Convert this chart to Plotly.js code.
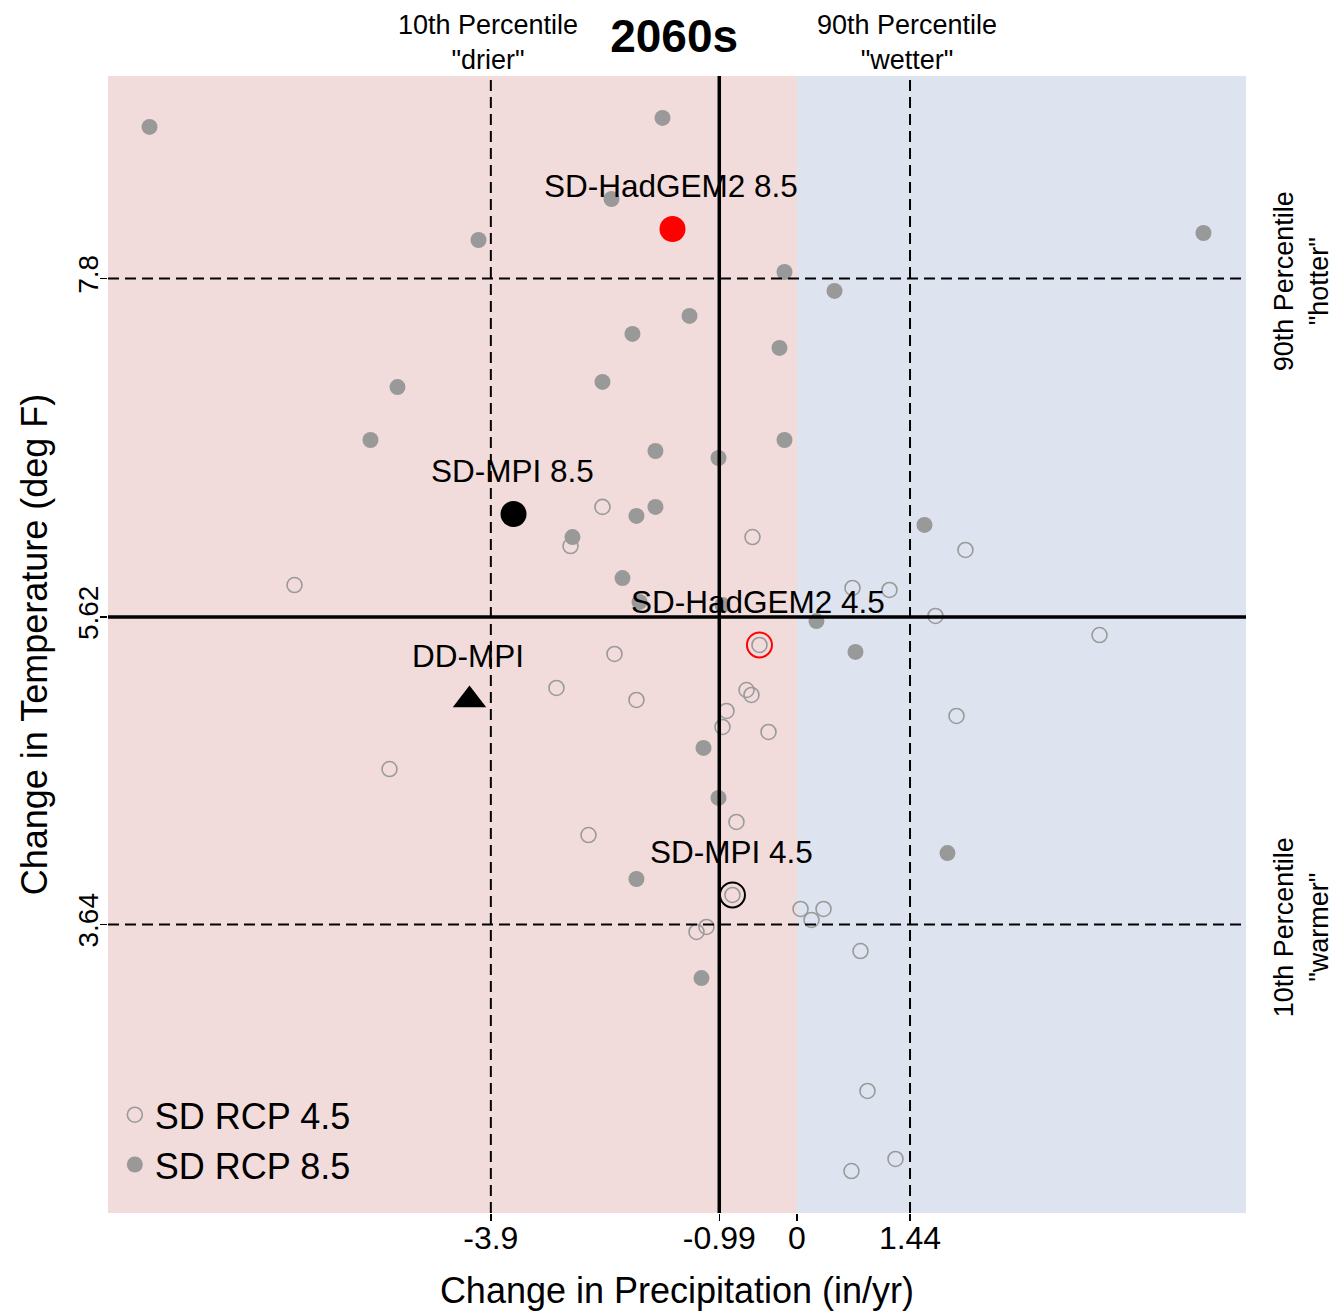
<!DOCTYPE html>
<html>
<head>
<meta charset="utf-8">
<script src="https://cdn.plot.ly/plotly-3.0.1.min.js"></script>
<style>html,body{margin:0;padding:0;background:#fff;}#chart{width:1334px;height:1311px;}</style>
</head>
<body>
<div id="chart"></div>
<script>
// ---- data ----
var rcp45X = [-6.401,-2.478,-2.885,-0.567,2.146,0.707,1.178,1.764,3.854,-2.325,-3.064,-2.045,-0.643,-0.580,-0.898,-0.949,-0.363,2.032,-5.191,-0.771,-2.656,0.045,0.338,0.185,-1.280,-1.153,0.809,0.898,1.255,0.694,-0.478,-0.822];
var rcp45Y = [5.826,6.329,6.077,6.135,6.052,5.807,5.794,5.627,5.504,5.382,5.163,5.086,5.150,5.118,5.015,4.912,4.880,4.983,4.641,4.300,4.216,3.740,3.740,3.669,3.592,3.624,3.469,2.568,2.130,2.052,5.440,3.830];
var rcp85X = [-8.248,-1.713,-2.363,-4.057,5.178,-0.159,0.478,-1.369,-2.096,-0.223,-5.089,-2.478,-5.433,-0.159,-1.803,-1.000,-1.803,-2.045,-2.860,1.624,-2.223,-2.006,-0.949,0.248,0.745,-1.191,-1.000,1.917,-2.045,-1.217];
var rcp85Y = [8.776,8.834,8.312,8.048,8.093,7.842,7.720,7.559,7.443,7.353,7.101,7.134,6.760,6.760,6.689,6.644,6.329,6.271,6.135,6.213,5.871,5.717,5.697,5.594,5.395,4.777,4.455,4.100,3.933,3.295];

var hiNames = ["SD-HadGEM2 8.5","SD-MPI 8.5","DD-MPI","SD-HadGEM2 4.5","SD-MPI 4.5"];
var hiX = [-1.586,-3.611,-4.172,-0.478,-0.822];
var hiY = [8.119,6.283,5.086,5.440,3.830];

var xPctVals = [-3.9, 1.44];
var xPctLabels = ["10th Percentile<br>\"drier\"", "90th Percentile<br>\"wetter\""];
var yPctVals = [7.8, 3.64];
var yPctLabels = ["90th Percentile<br>\"hotter\"", "10th Percentile<br>\"warmer\""];
var xMedian = -0.99;
var yMedian = 5.62;
var xTickVals = [-3.9, -0.99, 0, 1.44];
var xTickText = ["-3.9", "-0.99", "0", "1.44"];
var yTickVals = [3.64, 5.62, 7.8];
var yTickText = ["3.64", "5.62", "7.8"];

// ---- styles ----
var FONT = "Liberation Sans, Arial, sans-serif";
var XR = [-8.777, 5.72];
var YR = [1.782, 9.104];
var DASH = "11px,6px";
var hiStyles = [
  {symbol:"circle", size:26, color:"#ff0000"},
  {symbol:"circle", size:26, color:"#000000"},
  {symbol:"triangle-up", size:29, color:"#000000"},
  {symbol:"circle-open", size:25, color:"#ff0000", lw:2},
  {symbol:"circle-open", size:25, color:"#000000", lw:2}
];

var traces = [
  {type:"scatter", mode:"markers", name:"SD RCP 4.5", x:rcp45X, y:rcp45Y,
   marker:{symbol:"circle-open", size:15, color:"#9a9a9a", line:{width:1.6, color:"#9a9a9a"}}},
  {type:"scatter", mode:"markers", name:"SD RCP 8.5", x:rcp85X, y:rcp85Y,
   marker:{symbol:"circle", size:16, color:"#999999", line:{width:0}}}
];
hiNames.forEach(function(n,i){
  var s = hiStyles[i];
  var m = {symbol:s.symbol, size:s.size, color:s.color};
  if (s.lw) m.line = {width:s.lw, color:s.color}; else m.line = {width:0};
  traces.push({type:"scatter", mode:"markers", name:n, x:[hiX[i]], y:[hiY[i]], marker:m, showlegend:false});
});

var shapes = [
  {type:"rect", xref:"x", yref:"y", x0:XR[0], x1:0, y0:YR[0], y1:YR[1], fillcolor:"#f2dcdb", line:{width:0}, layer:"below"},
  {type:"rect", xref:"x", yref:"y", x0:0, x1:XR[1], y0:YR[0], y1:YR[1], fillcolor:"#dde3ef", line:{width:0}, layer:"below"}
];
xPctVals.forEach(function(v){
  shapes.push({type:"line", xref:"x", yref:"y", x0:v, x1:v, y0:YR[0], y1:YR[1], line:{color:"#000", width:2, dash:DASH}, layer:"above"});
});
yPctVals.forEach(function(v){
  shapes.push({type:"line", xref:"x", yref:"y", x0:XR[0], x1:XR[1], y0:v, y1:v, line:{color:"#000", width:2, dash:DASH}, layer:"above"});
});
shapes.push({type:"line", xref:"x", yref:"y", x0:xMedian, x1:xMedian, y0:YR[0], y1:YR[1], line:{color:"#000", width:3.5}, layer:"above"});
shapes.push({type:"line", xref:"x", yref:"y", x0:XR[0], x1:XR[1], y0:yMedian, y1:yMedian, line:{color:"#000", width:3.5}, layer:"above"});

var annotations = [];
hiNames.forEach(function(n,i){
  annotations.push({xref:"x", yref:"y", x:hiX[i], y:hiY[i], text:n, showarrow:false,
    xanchor:"center", yanchor:"middle", yshift:(i===2?44:43), xshift:-1,
    font:{family:FONT, size:31.5, color:"#000"}});
});
xPctVals.forEach(function(v,i){
  annotations.push({xref:"x", yref:"paper", x:v, y:1.0295, text:xPctLabels[i], showarrow:false,
    xanchor:"center", yanchor:"middle", xshift:-3, font:{family:FONT, size:27, color:"#000"}});
});
yPctVals.forEach(function(v,i){
  annotations.push({xref:"paper", yref:"y", x:1.049, y:v, text:yPctLabels[i], showarrow:false,
    textangle:-90, xanchor:"center", yanchor:"middle", yshift:-3, font:{family:FONT, size:27, color:"#000"}});
});

var layout = {
  width:1334, height:1311,
  margin:{l:108, r:88, t:76, b:98, pad:0},
  paper_bgcolor:"#ffffff", plot_bgcolor:"#ffffff",
  font:{family:FONT, color:"#000"},
  title:{text:"<b>2060s</b>", x:0.4975, xref:"paper", y:1-36/1311, yref:"container", xanchor:"center", yanchor:"middle",
         font:{family:FONT, size:46, color:"#000"}},
  showlegend:true,
  legend:{x:0.006, y:0.016, xanchor:"left", yanchor:"bottom", bgcolor:"rgba(0,0,0,0)", borderwidth:0,
          font:{family:FONT, size:36, color:"#000"}, tracegroupgap:0},
  xaxis:{range:XR, tickvals:xTickVals, ticktext:xTickText, ticks:"outside", ticklen:7, tickwidth:1.5, tickcolor:"#000",
         ticklabelstandoff:-10,
         showgrid:false, zeroline:false, showline:false, tickfont:{family:FONT, size:32, color:"#000"},
         title:{text:"Change in Precipitation (in/yr)", font:{family:FONT, size:36, color:"#000"}, standoff:28}},
  yaxis:{range:YR, tickvals:yTickVals, ticktext:yTickText, ticks:"outside", ticklen:7, tickwidth:1.5, tickcolor:"#000",
         ticklabelstandoff:-9,
         tickangle:-90, showgrid:false, zeroline:false, showline:false, tickfont:{family:FONT, size:28, color:"#000"},
         title:{text:"Change in Temperature (deg F)", font:{family:FONT, size:36, color:"#000"}, standoff:14}},
  shapes:shapes,
  annotations:annotations
};

Plotly.newPlot("chart", traces, layout, {displayModeBar:false, staticPlot:true});
</script>
</body>
</html>
